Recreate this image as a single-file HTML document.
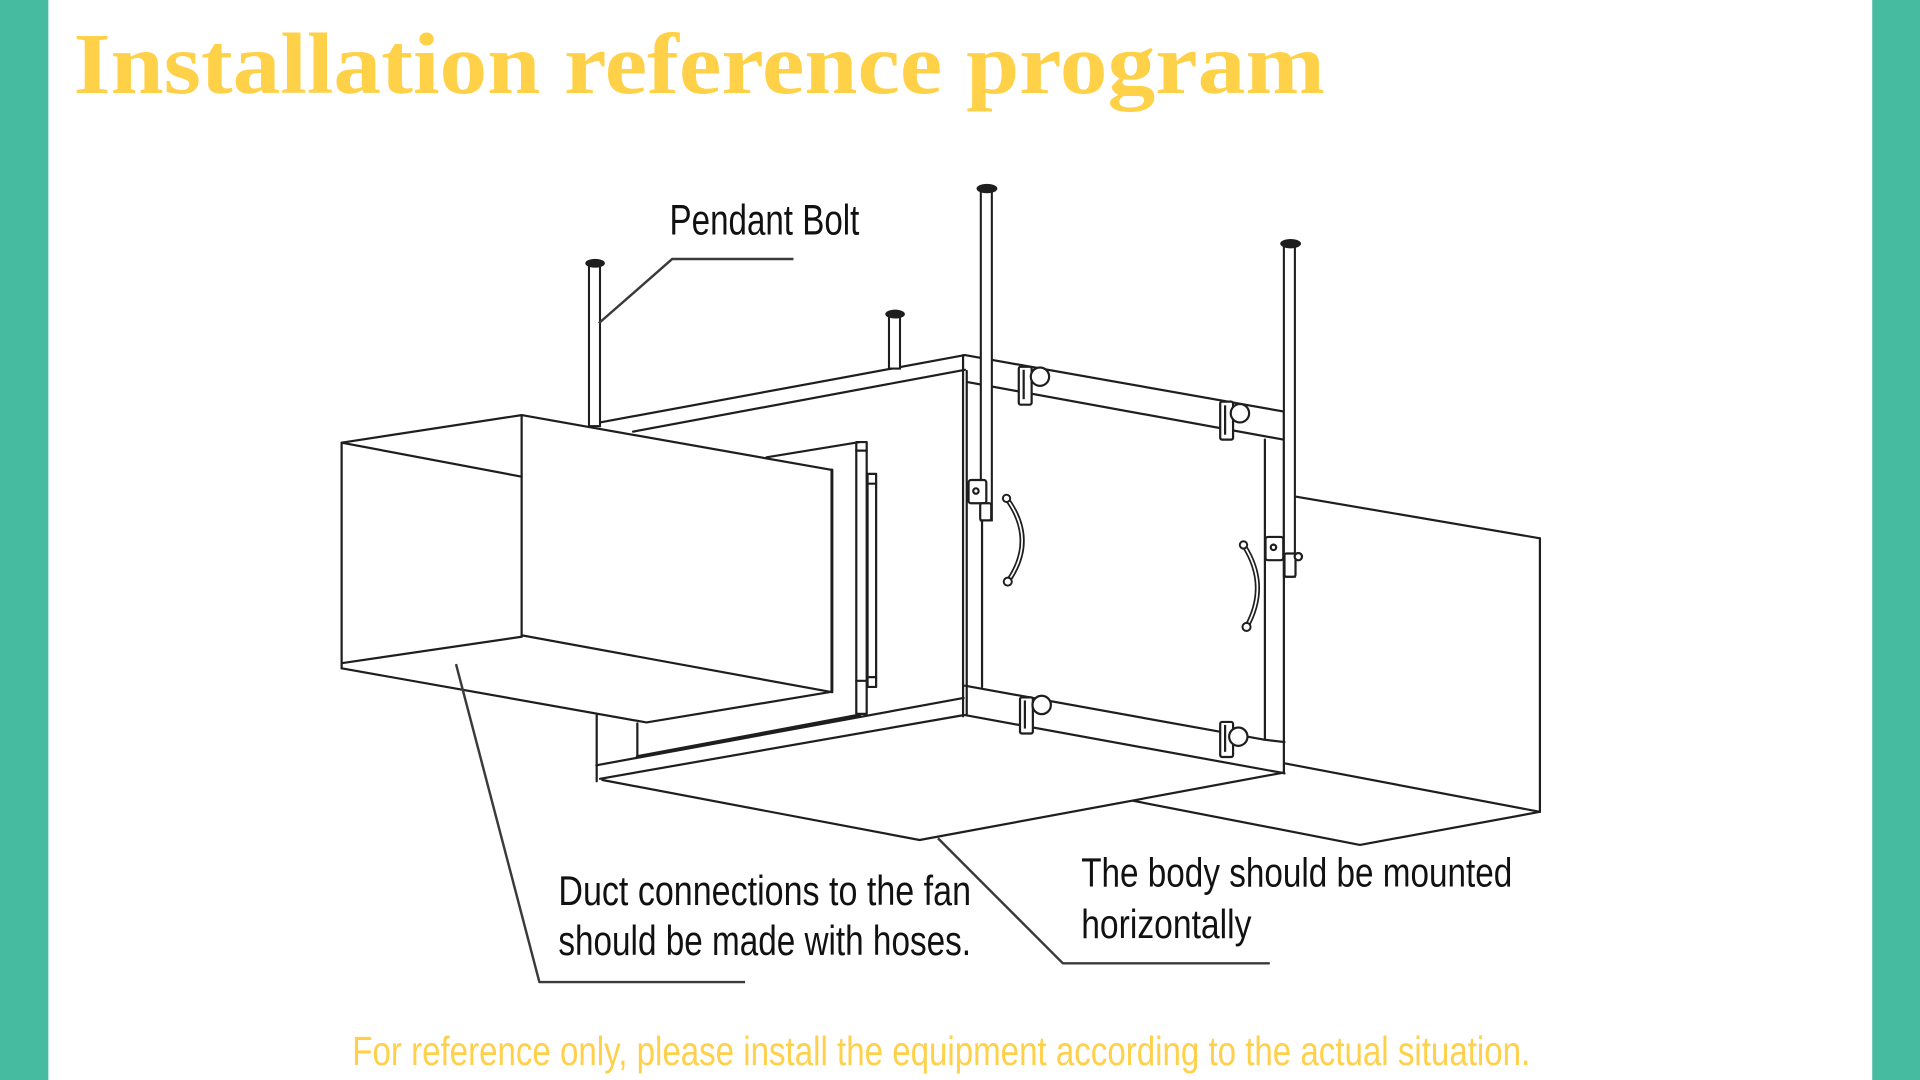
<!DOCTYPE html>
<html>
<head>
<meta charset="utf-8">
<style>
  html, body { margin: 0; padding: 0; background: #ffffff; }
  body { width: 1920px; height: 1080px; overflow: hidden; }
  svg { display: block; }
</style>
</head>
<body>
<svg width="1920" height="1080" viewBox="0 0 1568 882" xmlns="http://www.w3.org/2000/svg">
  <rect x="0" y="0" width="1568" height="882" fill="#ffffff"/>
  <!-- teal side bars -->
  <rect x="0" y="0" width="39.5" height="882" fill="#46bba0"/>
  <rect x="1529" y="0" width="39" height="882" fill="#46bba0"/>

  <!-- Title -->
  <text x="60" y="76" font-family="'Liberation Serif', serif" font-weight="bold" font-size="71" fill="#ffd148" textLength="1022" lengthAdjust="spacingAndGlyphs">Installation reference program</text>

  <g fill="none" stroke="#1e1e1e" stroke-width="1.8" stroke-linejoin="round" stroke-linecap="round">
    <!-- ===== Main body ===== -->
    <!-- top band -->
    <line x1="490" y1="345" x2="788" y2="290"/>
    <line x1="517" y1="352.5" x2="788" y2="302"/>
    <line x1="788" y1="290" x2="1048" y2="336"/>
    <line x1="790" y1="312" x2="1048" y2="359"/>
    <!-- front corner verticals -->
    <line x1="786.5" y1="290" x2="786.5" y2="585"/>
    <line x1="789.5" y1="303" x2="789.5" y2="584"/>
    <!-- inner frame verticals -->
    <line x1="802" y1="313" x2="802" y2="561"/>
    <line x1="1033" y1="359" x2="1033" y2="604"/>
    <!-- right edge -->
    <line x1="1048.5" y1="336" x2="1048.5" y2="631.5"/>
    <!-- bottom band -->
    <line x1="788" y1="560" x2="1032" y2="604"/>
    <line x1="1032" y1="604" x2="1049" y2="606"/>
    <line x1="788" y1="584" x2="1049" y2="631.5"/>
    <!-- front-left face bottom -->
    <line x1="487" y1="625" x2="787" y2="570"/>
    <line x1="490" y1="636" x2="787" y2="584"/>
    <line x1="487.3" y1="584" x2="487.3" y2="638"/>
    <!-- bottom face -->
    <polyline points="492,637 751,686 1048,631"/>

    <!-- recess around left duct -->
    <line x1="626" y1="373.5" x2="702" y2="361"/>
    <line x1="520.5" y1="590.7" x2="520.5" y2="618"/>
    <line x1="520.5" y1="618" x2="702" y2="584" stroke-width="2.6"/>
    <!-- flange -->
    <rect x="699.3" y="361" width="8.5" height="222" />
    <rect x="708.5" y="387" width="7" height="174" />
    <line x1="699.3" y1="368" x2="707.8" y2="368"/>
    <line x1="699.3" y1="556" x2="707.8" y2="556"/>
    <line x1="708.5" y1="395" x2="715.5" y2="395"/>
    <line x1="708.5" y1="553" x2="715.5" y2="553"/>

    <!-- ===== Left duct ===== -->
    <polyline points="279,545.8 279,361.5 426,339"/>
    <line x1="279" y1="361.5" x2="426" y2="389.3"/>
    <line x1="426" y1="339" x2="426" y2="520"/>
    <line x1="279" y1="541.6" x2="426" y2="520"/>
    <line x1="426" y1="339" x2="679.4" y2="383.8"/>
    <line x1="679.4" y1="383.8" x2="679.4" y2="565" stroke-width="2.4"/>
    <line x1="427" y1="519" x2="678" y2="565"/>
    <polyline points="279,545.8 528,590 679,565"/>

    <!-- ===== Right duct ===== -->
    <line x1="1049" y1="404" x2="1257.6" y2="439.6"/>
    <line x1="1257.6" y1="439.6" x2="1257.6" y2="663"/>
    <line x1="1049" y1="623.4" x2="1257.6" y2="663"/>
    <polyline points="925.5,654 1110.6,690 1257.6,663"/>

    <!-- ===== Handles ===== -->
    <path d="M822 407 Q847 441 823 475" stroke-width="4.2"/>
    <path d="M1015.5 445 Q1037 478 1018 512" stroke-width="4.2"/>
  </g>
  <g fill="none" stroke="#ffffff" stroke-width="1.4">
    <path d="M822 407 Q847 441 823 475"/>
    <path d="M1015.5 445 Q1037 478 1018 512"/>
  </g>
  <g fill="#ffffff" stroke="#1e1e1e" stroke-width="1.6">
    <circle cx="822" cy="407" r="3"/>
    <circle cx="823" cy="475" r="3.3"/>
    <circle cx="1015.5" cy="445" r="3"/>
    <circle cx="1018" cy="512" r="3.3"/>
  </g>

  <!-- ===== Pendant bolts (rods) ===== -->
  <g fill="#ffffff" stroke="#1e1e1e" stroke-width="1.7">
    <rect x="481" y="216" width="9" height="132"/>
    <rect x="726" y="258" width="9" height="43"/>
    <rect x="801" y="156" width="9" height="269"/>
    <rect x="1048.5" y="201" width="9" height="270"/>
  </g>
  <g fill="#1e1e1e">
    <ellipse cx="486" cy="215" rx="8" ry="3.6"/>
    <ellipse cx="731" cy="256.5" rx="8" ry="3.6"/>
    <ellipse cx="806" cy="154" rx="8.5" ry="3.8"/>
    <ellipse cx="1054" cy="199" rx="8.5" ry="3.8"/>
  </g>

  <!-- ===== Clips ===== -->
  <g fill="#ffffff" stroke="#1e1e1e" stroke-width="1.8">
    <!-- top left -->
    <rect x="832" y="299.5" width="10.5" height="31" rx="1.5"/>
    <line x1="836" y1="302" x2="836" y2="326"/>
    <circle cx="849.3" cy="307.6" r="7.5"/>
    <!-- top right -->
    <rect x="996.5" y="328" width="10.5" height="31" rx="1.5"/>
    <line x1="1000.5" y1="331" x2="1000.5" y2="355"/>
    <circle cx="1012.6" cy="337.5" r="7.5"/>
    <!-- bottom left -->
    <rect x="833" y="569.5" width="10.5" height="29.5" rx="1.5"/>
    <line x1="837" y1="572" x2="837" y2="595"/>
    <circle cx="850.7" cy="575.7" r="7.5"/>
    <!-- bottom right -->
    <rect x="996.5" y="589.6" width="10.5" height="28.6" rx="1.5"/>
    <line x1="1000.5" y1="592" x2="1000.5" y2="614"/>
    <circle cx="1011.3" cy="601.6" r="7.5"/>
    <!-- side clips -->
    <rect x="791" y="392" width="14.5" height="19" rx="2"/>
    <rect x="800.5" y="411" width="9" height="14" rx="1.5"/>
    <circle cx="797" cy="401" r="2.2"/>
    <rect x="1033.5" y="438.5" width="14.5" height="19" rx="2"/>
    <rect x="1049" y="452" width="9" height="19" rx="1.5"/>
    <circle cx="1060.3" cy="454.6" r="3"/>
    <circle cx="1040" cy="447" r="2.2"/>
  </g>

  <!-- ===== Leader lines ===== -->
  <g fill="none" stroke="#3a3a3a" stroke-width="2" stroke-linejoin="round">
    <polyline points="648,211.5 549,211.5 489,264"/>
    <polyline points="372.4,542.3 440.5,802 608.5,802"/>
    <polyline points="766,684.6 868,786.7 1037,786.7"/>
  </g>

  <!-- ===== Labels ===== -->
  <g font-family="'Liberation Sans', sans-serif" fill="#111111">
    <text x="546.8" y="191.5" font-size="35" textLength="155" lengthAdjust="spacingAndGlyphs">Pendant Bolt</text>
    <text x="456" y="739" font-size="34" textLength="337" lengthAdjust="spacingAndGlyphs">Duct connections to the fan</text>
    <text x="456" y="780" font-size="34" textLength="337" lengthAdjust="spacingAndGlyphs">should be made with hoses.</text>
    <text x="883" y="724" font-size="33" textLength="352" lengthAdjust="spacingAndGlyphs">The body should be mounted</text>
    <text x="883" y="766" font-size="33" textLength="139" lengthAdjust="spacingAndGlyphs">horizontally</text>
  </g>

  <!-- Footer -->
  <text x="287.7" y="869.8" font-family="'Liberation Sans', sans-serif" font-size="33" fill="#ffd04a" textLength="962" lengthAdjust="spacingAndGlyphs">For reference only, please install the equipment according to the actual situation.</text>
</svg>
</body>
</html>
